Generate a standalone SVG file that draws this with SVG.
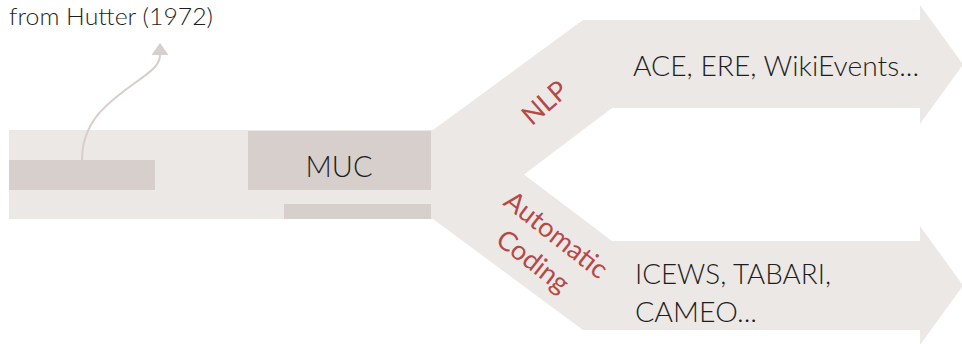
<svg xmlns="http://www.w3.org/2000/svg" width="962" height="344" viewBox="0 0 962 344">
<defs>
<style>
.band{fill:#ECE8E5}
.block{fill:#D6CFCC}
.t{font-family:"Lato","Noto Sans",sans-serif;font-weight:300;fill:#1e1e1e}
.r{font-family:"Lato","Noto Sans",sans-serif;font-weight:400;fill:#B5494A}
.conn{fill:none;stroke:#D6CFCC;stroke-width:2}
</style>
<marker id="ah" viewBox="0 0 12 17" refX="0" refY="8.5" markerWidth="12" markerHeight="17" markerUnits="userSpaceOnUse" orient="auto">
<path d="M0,0 L0,17 L12,8.5 Z" fill="#D6CFCC"/>
</marker>
</defs>
<rect width="962" height="344" fill="#FFFFFF"/>
<g id="flow">
<path class="band" d="M9,130 L433,130 L583,20 L920,20 L920,5 L963,64.5 L920,124 L920,108 L612,108 L524,174.5 L612,241 L920,241 L920,226 L963,285.5 L920,345 L920,330 L583,330 L433,219 L9,219 Z"/>
</g>
<g id="hutter">
<rect class="block" x="9" y="160" width="146" height="30"/>
<text class="t" x="9" y="25" font-size="24" textLength="204" lengthAdjust="spacingAndGlyphs">from Hutter (1972)</text>
</g>
<g id="muc">
<rect class="block" x="248" y="131" width="183" height="59"/>
<rect class="block" x="284" y="204" width="147" height="15"/>
<text class="t" x="339" y="177" font-size="29" text-anchor="middle">MUC</text>
</g>
<g id="nlp">
<text class="r" transform="translate(545,103) rotate(-41)" x="0" y="9" font-size="27" text-anchor="middle">NLP</text>
<text class="t" x="633" y="76" font-size="27" textLength="286" lengthAdjust="spacingAndGlyphs">ACE, ERE, WikiEvents...</text>
</g>
<g id="coding">
<g transform="translate(556,235) rotate(38)">
<text class="r" x="0" y="9" font-size="27" text-anchor="middle">Automatic</text>
<text class="r" x="-2" y="44" font-size="27" text-anchor="middle">Coding</text>
</g>
<text class="t" x="635" y="284" font-size="27" textLength="196" lengthAdjust="spacingAndGlyphs">ICEWS, TABARI,</text>
<text class="t" x="635" y="322" font-size="27" textLength="122" lengthAdjust="spacingAndGlyphs">CAMEO...</text>
</g>
<g id="connectors">
<path class="conn" d="M82,160 C82,120 110,102 128,88 C150,72 160,66 160,55" marker-end="url(#ah)"/>
</g>
</svg>
